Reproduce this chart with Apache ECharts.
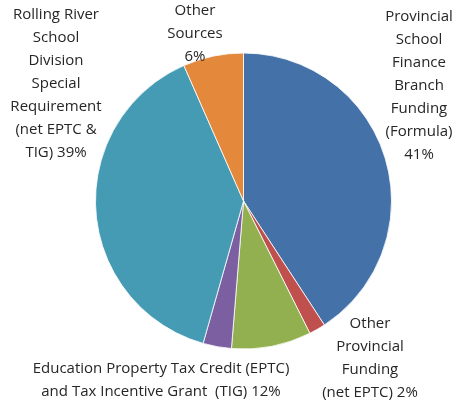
<!DOCTYPE html>
<html>
<head>
<meta charset="utf-8">
<script src="https://cdn.jsdelivr.net/npm/echarts@6/dist/echarts.min.js"></script>
<style>
html,body{margin:0;padding:0;background:#fff;}
#chart{width:458px;height:403px;}
</style>
</head>
<body>
<div id="chart"></div>
<script>
var categories = [
  'Provincial School Finance Branch Funding (Formula)',
  'Other Provincial Funding (net EPTC)',
  'Education Property Tax Credit (EPTC)',
  'Tax Incentive Grant (TIG)',
  'Rolling River School Division Special Requirement (net EPTC & TIG)',
  'Other Sources'
];
var values = [40.8, 1.8, 8.7, 3.1, 39.0, 6.6];
var labelTexts = [
  'Provincial\nSchool\nFinance\nBranch\nFunding\n(Formula)\n41%',
  'Other\nProvincial\nFunding\n(net EPTC) 2%',
  'Education Property Tax Credit (EPTC)\nand Tax Incentive Grant  (TIG) 12%',
  '',
  'Rolling River\nSchool\nDivision\nSpecial\nRequirement\n(net EPTC &\nTIG) 39%',
  'Other\nSources\n6%'
];
var colors = ['#4472A8', '#C0504D', '#92B050', '#7B5FA0', '#449BB3', '#E4883C'];

// label anchor positions (top-center of each text block)
var labelPos = [
  [419, 5],
  [370, 312],
  [161, 357],
  null,
  [56, 3],
  [195, -1]
];

var chart = echarts.init(document.getElementById('chart'), null, {renderer: 'canvas'});
chart.setOption({
  animation: false,
  color: colors,
  series: [{
    type: 'pie',
    center: [243.5, 201],
    radius: 148,
    startAngle: 90,
    clockwise: true,
    itemStyle: {borderColor: '#fff', borderWidth: 0.8},
    label: {
      show: true,
      position: 'outside',
      formatter: function (p) { return labelTexts[p.dataIndex]; },
      fontFamily: 'Open Sans',
      fontSize: 15,
      lineHeight: 23,
      color: '#262626',
      align: 'center',
      overflow: 'none',
      width: 400
    },
    labelLine: {show: false},
    labelLayout: function (params) {
      var pos = labelPos[params.dataIndex];
      if (!pos) return {};
      return {x: pos[0], y: pos[1], align: 'center', verticalAlign: 'top', moveOverlap: null, hideOverlap: false};
    },
    emphasis: {disabled: true},
    data: categories.map(function (c, i) {
      return {name: c, value: values[i], label: {show: labelTexts[i] !== ''}};
    })
  }]
});
</script>
</body>
</html>
